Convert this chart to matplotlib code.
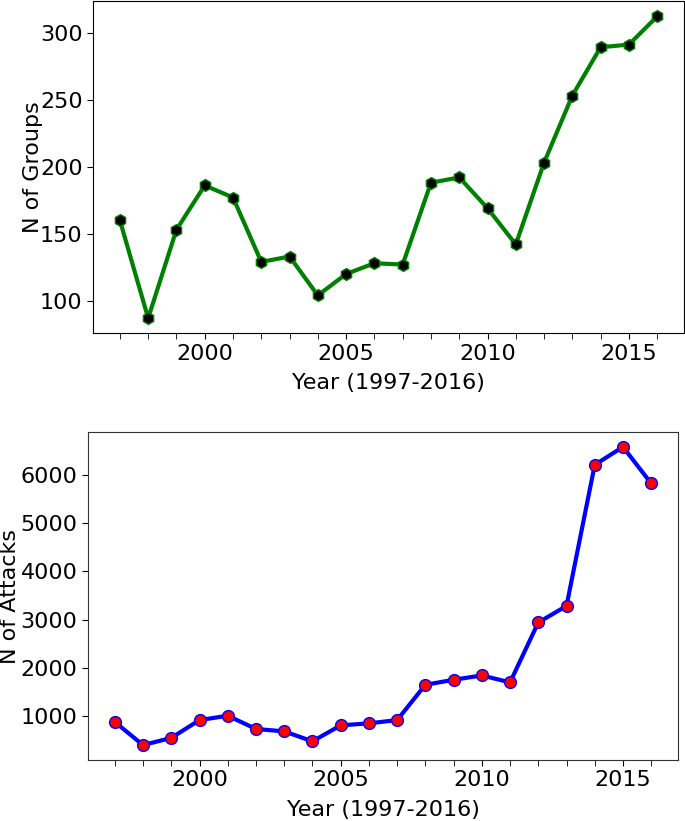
import matplotlib
matplotlib.use('Agg')
import matplotlib.pyplot as plt
from matplotlib.ticker import MultipleLocator

years = list(range(1997, 2017))
groups = [160, 87, 153, 186, 177, 129, 133, 104, 120, 128,
          127, 188, 192, 169, 142, 203, 253, 289, 291, 312]
attacks = [870, 390, 540, 910, 1000, 725, 675, 468, 800, 842,
           910, 1643, 1747, 1838, 1693, 2938, 3282, 6215, 6587, 5828]

fig = plt.figure(figsize=(6.85, 8.21), dpi=100)

# top panel: number of groups
ax1 = fig.add_axes([0.1358, 0.594, 0.8628, 0.4044])
ax1.plot(years, groups, color='green', linewidth=3, marker='h',
         markersize=8.5, markerfacecolor='black', markeredgecolor='green')
ax1.set_xlabel('Year (1997-2016)', fontsize=16, labelpad=7)
ax1.set_ylabel('N of Groups', fontsize=16)
ax1.yaxis.set_label_coords(-0.085, 0.5)

# bottom panel: number of attacks
ax2 = fig.add_axes([0.1285, 0.0743, 0.8613, 0.3995])
ax2.plot(years, attacks, color='blue', linewidth=3, marker='o',
         markersize=8.5, markerfacecolor='red', markeredgecolor='blue')
ax2.set_xlabel('Year (1997-2016)', fontsize=16, labelpad=7)
ax2.set_ylabel('N of Attacks', fontsize=16)
ax2.yaxis.set_label_coords(-0.115, 0.5)

for ax in (ax1, ax2):
    ax.xaxis.set_major_locator(MultipleLocator(5))
    ax.xaxis.set_minor_locator(MultipleLocator(1))
    ax.tick_params(axis='both', which='major', labelsize=16, length=4)
    ax.tick_params(axis='x', which='minor', length=4)

for s in ax2.spines.values():
    s.set_color('#333333')

fig.savefig('out.png', dpi=100)
